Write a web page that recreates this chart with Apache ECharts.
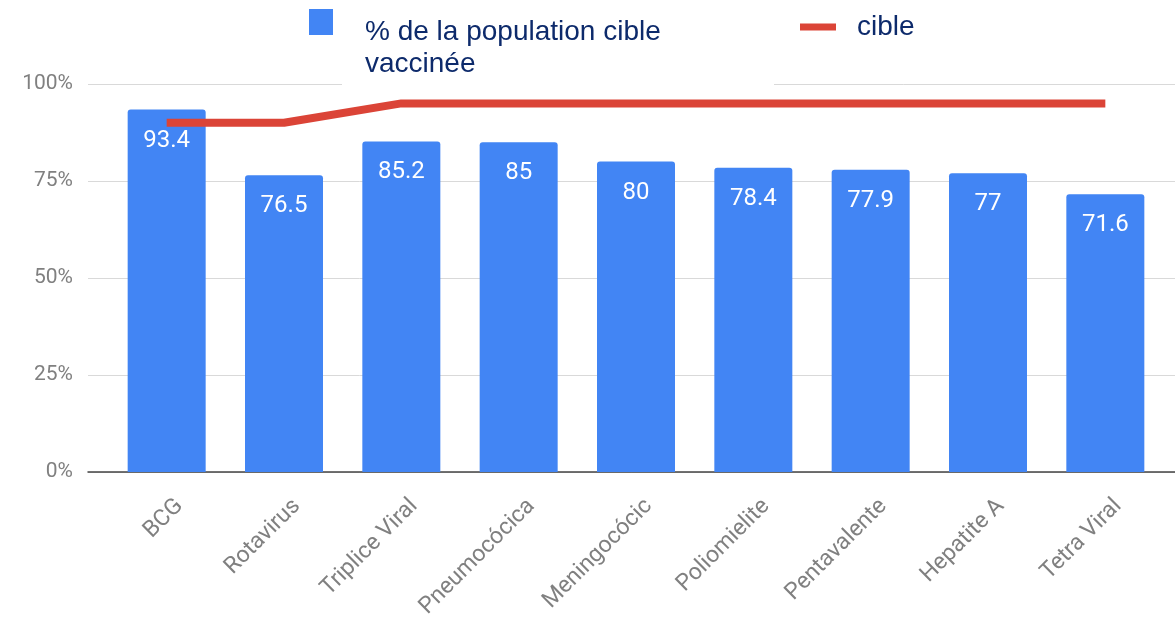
<!DOCTYPE html>
<html>
<head>
<meta charset="utf-8">
<script src="https://cdn.jsdelivr.net/npm/echarts@6/dist/echarts.min.js"></script>
<style>
  html, body { margin: 0; padding: 0; background: #fff; }
  #chart { width: 1175px; height: 630px; }
</style>
</head>
<body>
<div id="chart"></div>
<script>
// données du graphique
const vaccins = ['BCG', 'Rotavirus', 'Triplice Viral', 'Pneumocócica', 'Meningocócic', 'Poliomielite', 'Pentavalente', 'Hepatite A', 'Tetra Viral'];
const couverture = [93.4, 76.5, 85.2, 85, 80, 78.4, 77.9, 77, 71.6];
const cible = [90, 90, 95, 95, 95, 95, 95, 95, 95];
const yTicks = [0, 25, 50, 75, 100];

const nomBarre = '% de la population cible vaccinée';
const nomLigne = 'cible';

const chart = echarts.init(document.getElementById('chart'));

const option = {
  animation: false,
  textStyle: { fontFamily: 'Roboto' },
  graphic: [
    {
      // fond blanc derrière la légende (masque la ligne 100 %)
      type: 'rect',
      z: 10,
      shape: { x: 342, y: 76, width: 432, height: 14 },
      style: { fill: '#fff' }
    }
  ],
  legend: [
    {
      left: 309,
      top: 9,
      padding: 0,
      itemWidth: 24,
      itemHeight: 78,
      itemGap: 0,
      data: [{ name: nomBarre, icon: 'path://M0,0 H24 V26 H0 Z M0,78 H0.1 Z' }],
      formatter: () => '% de la population cible\nvaccinée',
      textStyle: {
        fontFamily: 'Liberation Sans',
        fontSize: 28,
        lineHeight: 32,
        color: '#0d2a6b',
        padding: [0, 0, 0, 27]
      }
    },
    {
      left: 800,
      top: 13,
      padding: 0,
      itemWidth: 36,
      itemHeight: 7,
      data: [{ name: nomLigne, icon: 'rect' }],
      textStyle: {
        fontFamily: 'Liberation Sans',
        fontSize: 28,
        color: '#0d2a6b',
        padding: [0, 0, 0, 16]
      }
    }
  ],
  grid: [
    { left: 88, right: 0, top: 84, bottom: 158 },
    { left: 108, right: 11, top: 84, bottom: 158 }
  ],
  xAxis: [
    {
      gridIndex: 0,
      type: 'value',
      min: 0,
      max: 1,
      axisLine: { show: true, lineStyle: { color: '#444', width: 1.5 } },
      axisTick: { show: false },
      axisLabel: { show: false },
      splitLine: { show: false }
    },
    {
      gridIndex: 1,
      type: 'category',
      data: vaccins,
      axisLine: { show: false },
      axisTick: { show: false },
      axisLabel: {
        interval: 0,
        rotate: 45,
        margin: 18,
        fontSize: 23,
        lineHeight: 36,
        color: '#808080',
        // ligne vide pour décaler le libellé sous la barre
        formatter: v => '\n' + v
      }
    }
  ],
  yAxis: [
    {
      gridIndex: 0,
      type: 'value',
      min: yTicks[0],
      max: yTicks[yTicks.length - 1],
      interval: 25,
      axisLine: { show: false },
      axisTick: { show: false },
      axisLabel: {
        margin: 15,
        fontSize: 21,
        color: '#808080',
        formatter: '{value}%'
      },
      splitLine: { show: true, lineStyle: { color: '#d9d9d9', width: 1 } }
    },
    {
      gridIndex: 1,
      type: 'value',
      min: 0,
      max: 100,
      show: false
    }
  ],
  series: [
    {
      name: nomBarre,
      type: 'bar',
      xAxisIndex: 1,
      yAxisIndex: 1,
      data: couverture,
      barWidth: 78,
      itemStyle: { color: '#4285f4', borderRadius: [3, 3, 0, 0] },
      label: {
        show: true,
        position: 'insideTop',
        distance: 19,
        color: '#fff',
        fontSize: 24,
        fontFamily: 'Roboto'
      }
    },
    {
      name: nomLigne,
      type: 'line',
      xAxisIndex: 1,
      yAxisIndex: 1,
      data: cible,
      symbol: 'none',
      z: 5,
      itemStyle: { color: '#db4437' },
      lineStyle: { color: '#db4437', width: 8 }
    }
  ]
};

chart.setOption(option);
</script>
</body>
</html>
